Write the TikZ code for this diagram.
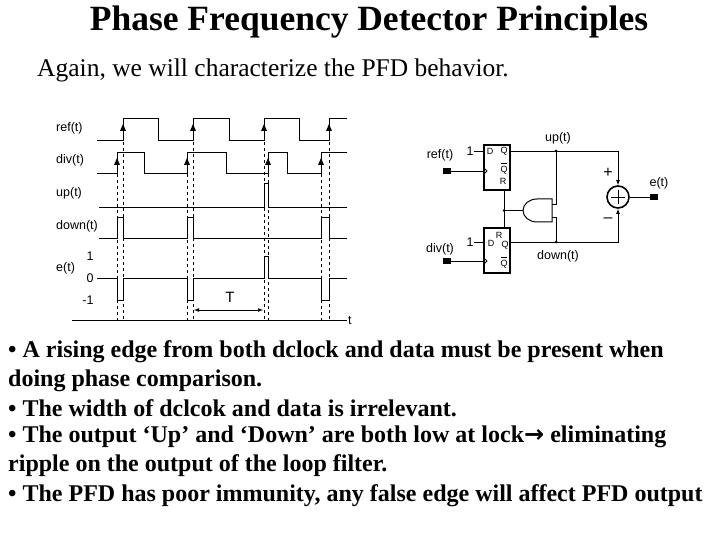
\documentclass[tikz,border=0pt]{standalone}
\usepackage{fontspec}
\setmainfont{Liberation Serif}
\newfontfamily\lsans{Liberation Sans}
\newfontfamily\dv{DejaVu Sans}
\usetikzlibrary{arrows.meta}
\begin{document}
\begin{tikzpicture}[x=1pt,y=-1pt,
  wave/.style={line width=0.9pt},
  dline/.style={dashed,line width=0.5pt},
  lab/.style={font=\lsans\fontsize{12.5}{12.5}\selectfont,inner sep=0pt},
  pin/.style={font=\lsans\fontsize{9}{9}\selectfont,inner sep=0pt},
  bul/.style={anchor=west,font=\bfseries\fontsize{24}{24}\selectfont,inner sep=0pt},
  wire/.style={line width=0.8pt},
  ff/.style={draw,line width=2pt,minimum width=26pt,minimum height=45pt,inner sep=0pt}]
\useasboundingbox (0,0) rectangle (720,540);
\node[font=\bfseries\fontsize{35.5}{35.5}\selectfont] (title) at (369,22) {Phase Frequency Detector Principles};
\node[anchor=west,font=\fontsize{25.5}{25.5}\selectfont,inner sep=0pt] (sub) at (37,70) {Again, we will characterize the PFD behavior.};
% labels
\node[lab,anchor=west] (lref) at (56,128) {ref(t)};
\node[lab,anchor=west] (ldiv) at (56,160) {div(t)};
\node[lab,anchor=west] (lup) at (56,193) {up(t)};
\node[lab,anchor=west] (ldn) at (56,226) {down(t)};
\node[lab,anchor=west] (le) at (56,268) {e(t)};
\node[lab] (l1) at (90,256) {1};
\node[lab] (l0) at (90,278) {0};
\node[lab] (lm1) at (88,300) {-1};
% waves
\draw[wave] (97,140)--(123,140)--(123,118)--(158,118)--(158,140)--(193,140)--(193,118)--(229,118)--(229,140)--(264,140)--(264,118)--(299,118)--(299,140)--(329,140)--(329,118)--(347,118);
\draw[wave] (97,173)--(117,173)--(117,152)--(144,152)--(144,173)--(187,173)--(187,152)--(226,152)--(226,173)--(268,173)--(268,152)--(287,152)--(287,173)--(321,173)--(321,152)--(347,152);
\draw[wave] (99,207)--(264,207)--(264,183)--(268,183)--(268,207)--(347,207);
\draw[wave] (99,238)--(117,238)--(117,217)--(123,217)--(123,238)--(187,238)--(187,217)--(193,217)--(193,238)--(321,238)--(321,217)--(329,217)--(329,238)--(347,238);
\draw[wave] (97,278)--(117,278)--(117,300)--(123,300)--(123,278)--(187,278)--(187,300)--(193,300)--(193,278)--(264,278)--(264,256)--(268,256)--(268,278)--(321,278)--(321,300)--(329,300)--(329,278)--(347,278);
\draw[wave] (72,320)--(347,320);
\node[lab,anchor=west] (lt) at (348,321) {t};
\foreach \x in {123,193,264,329} {\draw[dline] (\x,130)--(\x,320); \fill (\x,124)--(\x-3,131)--(\x+3,131)--cycle;}
\foreach \x in {117,187,268,321} {\draw[dline] (\x,162)--(\x,320); \fill (\x,158)--(\x-3,165)--(\x+3,165)--cycle;}
\draw[{Latex[length=5pt]}-{Latex[length=5pt]},line width=0.5pt] (194,310)--(263,310);
\node[lab,font=\lsans\fontsize{15}{15}\selectfont] (lT) at (230,297) {T};
% circuit
\node[ff] (ff1) at (497,167.5) {};
\node[ff] (ff2) at (497,250.5) {};
\node[pin] at (490,151) {D};
\node[pin] at (504,151) {Q};
\node[pin] at (504,170) {Q};
\draw[line width=0.6pt] (501,163)--(507,163);
\node[pin] at (503,181) {R};
\node[pin] at (491,243) {D};
\node[pin] at (499,235) {R};
\node[pin] at (505,245) {Q};
\node[pin] at (504,264) {Q};
\draw[line width=0.6pt] (501,257)--(507,257);
\node[lab] (one1) at (470,151) {1};
\node[lab] (one2) at (470,242) {1};
\draw[wire] (474,151)--(484,151); \draw[wire] (474,242)--(484,242);
\node[lab] (lref2) at (440,155) {ref(t)};
\node[lab] (ldiv2) at (440,249) {div(t)};
\fill (443,168) rectangle (451,174); \fill (443,258) rectangle (451,264);
\draw[wire] (451,171)--(484,171); \draw[wire] (451,261)--(484,261);
\draw[wire] (484,168)--(487,171)--(484,174); \draw[wire] (484,258)--(487,261)--(484,264);
\node[draw,circle,line width=1.6pt,minimum size=22pt,inner sep=0pt] (sum) at (618,197) {};
\draw[line width=0.8pt] (611,197)--(625,197) (618,190)--(618,204);
\draw[wire,-{Latex[length=5pt]}] (510,151)--(618,151)--(sum.north);
\draw[wire,-{Latex[length=5pt]}] (510,242)--(618,242)--(sum.south);
\draw[wire] (sum.east)--(650,197); \fill (650,194) rectangle (658,200);
\node[lab] (le2) at (659,183) {e(t)};
\node[lab] (lup2) at (558,138) {up(t)};
\node[lab] (ldn2) at (558,256) {down(t)};
\node[lab,font=\lsans\fontsize{16}{16}\selectfont] at (608,173) {+};
\node[lab,font=\lsans\fontsize{16}{16}\selectfont] at (608,220) {–};
% AND gate facing left
\draw[line width=1pt] (552,199)--(537,199) arc (90:270:14pt and 11.5pt) -- (552,222)--cycle;
\coordinate (andout) at (523,210.5);
\draw[wire] (556,151)--(556,204)--(552,204);
\draw[wire] (556,242)--(556,217)--(552,217);
\fill (556,151) circle (1.5pt); \fill (556,242) circle (1.5pt); \fill (504,210.5) circle (1.5pt);
\draw[wire] (504,190)--(504,229);
\draw[wire] (andout)--(504,210.5);
% bullets
\node[bul] at (8,352) {• A rising edge from both dclock and data must be present when};
\node[bul] at (8,381) {doing phase comparison.};
\node[bul] at (8,408) {• The width of dclcok and data is irrelevant.};
\node[bul] at (8,437) {• The output ‘Up’ and ‘Down’ are both low at lock{\dv→} eliminating};
\node[bul] at (8,466) {ripple on the output of the loop filter.};
\node[bul] at (8,496) {• The PFD has poor immunity, any false edge will affect PFD output};
\end{tikzpicture}
\end{document}
